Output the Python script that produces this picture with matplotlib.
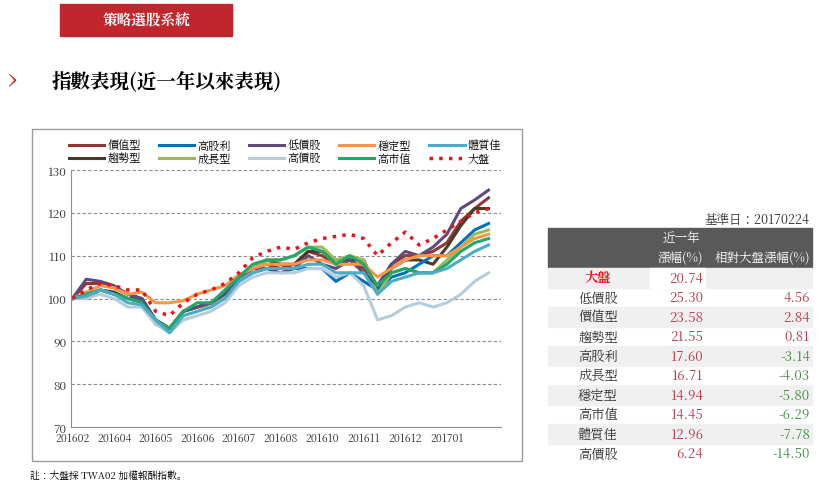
import matplotlib
matplotlib.use("Agg")
import matplotlib.pyplot as plt
from matplotlib import font_manager
from matplotlib.patches import Rectangle
import numpy as np

cjk = [f.name for f in font_manager.fontManager.ttflist if "CJK" in f.name]
pref = [n for n in cjk if "TC" in n] + [n for n in cjk if "JP" in n] + cjk
plt.rcParams["font.family"] = (pref[:1] if pref else []) + ["Noto Sans CJK TC", "DejaVu Sans"]

# roughly 10-day sampled index values, base 100
month_labels = ["201602", "201604", "201605", "201606", "201607",
                "201608", "201610", "201611", "201612", "201701"]

market = [100, 102, 103.5, 103, 102, 102, 97, 96, 99, 101, 102, 103.5, 106, 109.5, 111, 112,
          111.5, 113, 114, 114.5, 115, 114, 110, 113, 115.5, 112.5, 114, 116, 118, 120, 121]
low_price = [100, 104.5, 104, 103, 101, 100, 95, 93, 97, 98, 99, 101, 105, 107, 107, 106,
             107, 110, 108, 107, 109, 106, 103, 108, 111, 110, 112, 115, 121, 123, 125.3]
value = [100, 103.5, 103.5, 102.5, 101, 100, 95, 93, 97, 98, 99, 101, 105, 107, 108, 107,
         108, 111, 110, 108, 109, 107, 103, 108, 110, 110, 111, 113, 118, 121, 123.5]
trend = [100, 100, 102, 101.5, 100, 100, 94, 93, 97, 98, 99, 101, 105, 107, 109, 108,
         108, 111, 111, 109, 109, 109, 102, 107, 109, 109, 108, 112, 117, 121, 121]
high_div = [100, 101, 102, 101, 100, 99.5, 95, 93, 97, 98, 99, 101, 104, 106, 107, 107,
            107, 107, 107, 104, 106, 104, 102, 105, 106, 108, 110, 110, 113, 116, 117.5]
growth = [100, 101, 102, 101, 100, 99, 95, 93, 97, 98, 98, 101, 105, 107, 109, 109,
          110, 112, 112, 109, 110, 109, 101, 106, 107, 106, 106, 109, 112, 115, 116]
stable = [100, 101.5, 103, 102.5, 101, 101.5, 99, 99, 99.5, 101, 102, 103, 105.5, 107, 108, 108,
          108, 109, 109, 108, 108, 108, 105, 107, 109, 110, 110, 110, 112, 114, 115]
big_cap = [100, 101, 102, 101, 100, 99, 95, 93, 97, 99, 99, 102, 105, 108, 109, 109,
           110, 112, 111, 108, 110, 108, 103, 106, 107, 106, 106, 108, 111, 113, 114]
quality = [100, 100.5, 102, 101, 99, 98.5, 95, 92, 96, 97, 98, 100, 104, 106, 107, 107,
           107, 108, 108, 106, 106, 106, 101, 104, 105, 106, 106, 107, 109, 111, 112.5]
high_price = [100, 100, 101, 100, 98, 98, 94, 92, 95, 96, 97, 99, 103, 105, 106, 106,
              106, 107, 107, 105, 106, 103, 95, 96, 98, 99, 98, 99, 101, 104, 106]

table_names = ["大盤", "低價股", "價值型", "趨勢型", "高股利", "成長型", "穩定型", "高市值", "體質佳", "高價股"]
table_ret = [20.74, 25.30, 23.58, 21.55, 17.60, 16.71, 14.94, 14.45, 12.96, 6.24]
table_rel = [None, 4.56, 2.84, 0.81, -3.14, -4.03, -5.80, -6.29, -7.78, -14.50]

W, H = 820, 485
fig = plt.figure(figsize=(W / 100, H / 100), dpi=100)

def fx(px):
    return px / W

def fy(py):
    return 1 - py / H

# header banner
fig.patches.append(Rectangle((fx(60), fy(37)), fx(172), 32 / H, transform=fig.transFigure,
                             color="#C0272D", zorder=0))
fig.text(fx(146), fy(21), "策略選股系統", color="white", fontsize=10.5, fontweight="bold",
         ha="center", va="center")
fig.text(fx(8), fy(80), "›", color="#C0272D", fontsize=20, ha="left", va="center")
fig.text(fx(52), fy(82), "指數表現(近一年以來表現)", fontsize=14, fontweight="bold", ha="left", va="center")

# chart frame
fig.patches.append(Rectangle((fx(32), fy(462)), fx(490), 332 / H, transform=fig.transFigure,
                             fill=False, edgecolor="#9a9a9a", lw=1))

ax = fig.add_axes([fx(71), fy(428), fx(430), 257 / H])
x = np.arange(len(market))
series = [
    ("價值型", value, "#943634"),
    ("趨勢型", trend, "#4A3A2A"),
    ("高股利", high_div, "#0070C0"),
    ("成長型", growth, "#9BBB59"),
    ("低價股", low_price, "#604A7B"),
    ("高價股", high_price, "#B4CCDC"),
    ("穩定型", stable, "#F79646"),
    ("高市值", big_cap, "#1FA866"),
    ("體質佳", quality, "#4BACC6"),
]
handles = []
for name, vals, col in series:
    h, = ax.plot(x, vals, color=col, lw=2.2, label=name)
    handles.append(h)
h, = ax.plot(x, market, color="#E8141B", lw=2.5, ls=(0, (1, 1.8)), label="大盤")
handles.append(h)

ax.set_xlim(-0.1, 30.9)
ax.set_ylim(70, 130)
ax.set_yticks(range(70, 131, 10))
ax.set_xticks(np.arange(0, 30, 3))
ax.set_xticklabels(month_labels)
for v in range(80, 131, 10):
    ax.axhline(v, color="#8c8c8c", ls=(0, (3, 2)), lw=0.8, zorder=0)
for s in ["top", "right"]:
    ax.spines[s].set_visible(False)
for s in ["left", "bottom"]:
    ax.spines[s].set_color("#8c8c8c")
ax.tick_params(axis="y", labelsize=8.5, length=0, colors="#333333")
ax.tick_params(axis="x", labelsize=7.5, length=0, colors="#333333")

fig.legend(handles=handles, ncol=5, loc="center", bbox_to_anchor=(fx(285), fy(153)),
           frameon=False, fontsize=8, handlelength=3.2, columnspacing=1.6,
           labelspacing=0.1, handletextpad=0.3)

fig.text(fx(30), fy(476), "註：大盤採 TWA02 加權報酬指數。", fontsize=7, ha="left", va="center")

# table
fig.text(fx(810), fy(220), "基準日：20170224", fontsize=9, ha="right", va="center", color="#333333")
fig.patches.append(Rectangle((fx(548), fy(268)), fx(264), 39 / H, transform=fig.transFigure,
                             color="#595959", zorder=0))
fig.text(fx(700), fy(239), "近一年", color="white", fontsize=9, ha="right", va="center")
fig.text(fx(703), fy(258), "漲幅(%)", color="white", fontsize=9, ha="right", va="center")
fig.text(fx(810), fy(258), "相對大盤漲幅(%)", color="white", fontsize=9, ha="right", va="center")
row_h = 19.5
for i, (nm, r, rel) in enumerate(zip(table_names, table_ret, table_rel)):
    top = 269 + i * row_h
    yc = top + row_h / 2
    if i % 2 == 0:
        fig.patches.append(Rectangle((fx(548), fy(top + row_h)), fx(264), row_h / H,
                                     transform=fig.transFigure, color="#F0F0F0", zorder=0))
    if i == 0:
        fig.patches.append(Rectangle((fx(650), fy(top + row_h)), fx(55), row_h / H,
                                     transform=fig.transFigure, color="white", zorder=0))
        fig.text(fx(598), fy(yc), nm, color="#E8141B", fontsize=9.5, fontweight="bold",
                 ha="center", va="center")
    else:
        fig.text(fx(598), fy(yc), nm, color="#333333", fontsize=9.5, ha="center", va="center")
    fig.text(fx(703), fy(yc), f"{r:.2f}", color="#B5394A", fontsize=9.5, ha="right", va="center")
    if rel is not None:
        c = "#B5394A" if rel > 0 else "#3F8F3F"
        fig.text(fx(810), fy(yc), f"{rel:.2f}", color=c, fontsize=9.5, ha="right", va="center")

fig.savefig("out.png", dpi=100)
